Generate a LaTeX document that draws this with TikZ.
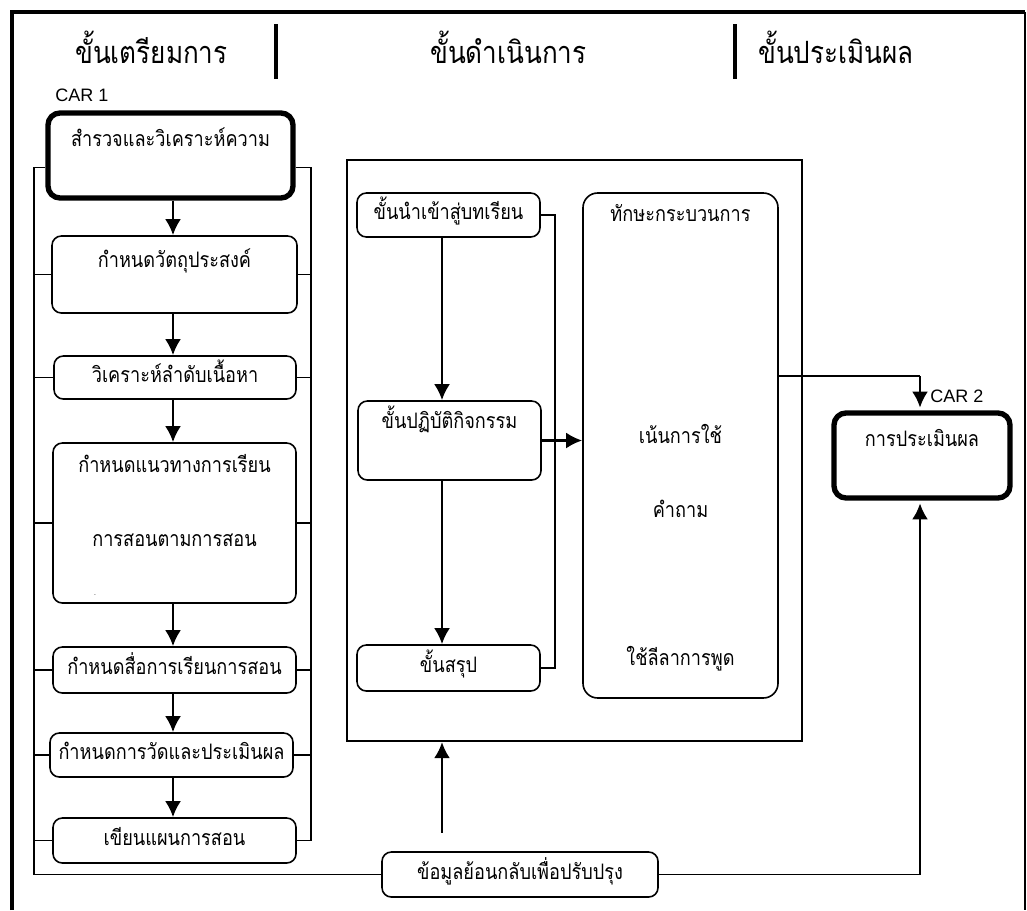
\documentclass[tikz,border=0pt]{standalone}
\usepackage{fontspec}
\setmainfont{Liberation Sans}
\newfontfamily\thaifont[Script=Thai, FakeStretch=0.85]{Loma}
\usetikzlibrary{arrows.meta}
\newcommand{\headfont}{\thaifont\fontsize{23}{27}\selectfont}
\newcommand{\boxfont}{\thaifont\fontsize{16}{19}\selectfont}
\newcommand{\carfont}{\fontsize{13.5}{16}\selectfont}

\tikzset{
  sz/.style 2 args={minimum width=#1*0.75pt, minimum height=#2*0.75pt},
  txt/.style={font=\boxfont, inner sep=0pt, text height=7pt, text depth=0pt},
  stepbox/.style={draw, rounded corners=7pt, line width=1.2pt, inner sep=0pt, txt},
  carbox/.style={stepbox, line width=4pt, rounded corners=9pt},
  head/.style={font=\headfont, anchor=base west, inner sep=0pt},
  arr/.style={-{Latex[length=12pt,width=12pt]}, line width=2pt},
  wire/.style={line width=1pt},
}

\begin{document}
\begin{tikzpicture}[x=0.75pt, y=-0.75pt]
  \useasboundingbox (0,0) rectangle (1027,910);
  % frame
  \draw[line width=2.3pt] (12,910) -- (12,12) -- (1025,12);
  \draw[line width=1pt] (1025,12) -- (1025,910);

  \node[head] (h-prep) at (75,63) {ขั้นเตรียมการ};
  \node[head] (h-run) at (430,63) {ขั้นดำเนินการ};
  \node[head] (h-eval) at (758,63) {ขั้นประเมินผล};
  \draw[line width=3.5pt] (276,24) -- (276,79);
  \draw[line width=3.5pt] (735,24) -- (735,79);

  \node[anchor=base west, font=\carfont, inner sep=0pt] (car1) at (55,101) {CAR 1};
  \node[anchor=base west, font=\carfont, inner sep=0pt] (car2) at (930,402) {CAR 2};

  % preparation column
  \node[carbox, sz={245}{85}] (survey) at (170.5,155.5) {};
  \node[txt] (survey-t) at (170.5,142) {สำรวจและวิเคราะห์ความ};
  \node[stepbox, sz={245}{77}] (goal) at (174.5,274.5) {};
  \node[txt] (goal-t) at (174.5,263) {กำหนดวัตถุประสงค์};
  \node[stepbox, sz={242}{43}] (order) at (175,377.5) {วิเคราะห์ลำดับเนื้อหา};
  \node[stepbox, sz={243}{160}] (plan) at (174.5,523) {};
  \node[txt] (plan-t1) at (174.5,468) {กำหนดแนวทางการเรียน};
  \node[txt] (plan-t2) at (174.5,542) {การสอนตามการสอน};
  \node[font=\tiny, inner sep=0pt] (plan-dot) at (95,595) {.};
  \node[stepbox, sz={243}{46}] (media) at (174.5,670) {กำหนดสื่อการเรียนการสอน};
  \node[stepbox, sz={243}{44}] (assess) at (171.5,755) {กำหนดการวัดและประเมินผล};
  \node[stepbox, sz={243}{45}] (write) at (174.5,840.5) {เขียนแผนการสอน};

  \coordinate (col) at (173,0);
  \coordinate (lspine) at (34,0);
  \coordinate (rspine) at (311,0);
  \foreach \a/\b in {survey/goal, goal/order, order/plan, plan/media, media/assess, assess/write}{
    \draw[arr] (\a.south -| col) -- (\b.north -| col);
  };

  % feedback
  \node[stepbox, sz={276}{45}] (feedback) at (520,874.5) {ข้อมูลย้อนกลับเพื่อปรับปรุง};

  \draw[wire] ([yshift=-9pt]survey.west) -| (feedback.west -| lspine) -- (feedback.west);
  \draw[wire] ([yshift=-9pt]survey.east) -| (write.east -| rspine) -- (write.east);
  \foreach \b in {goal, order, plan, media, assess, write}{
    \draw[wire] (\b.west) -- (\b.west -| lspine);
  };
  \foreach \b in {goal, order, plan, media, assess}{
    \draw[wire] (\b.east) -- (\b.east -| rspine);
  };

  % teaching steps
  \node[draw, line width=1.6pt, inner sep=0pt, sz={455}{581}] (run) at (574.5,450.5) {};
  \node[stepbox, sz={183}{44}] (intro) at (448.5,215) {ขั้นนำเข้าสู่บทเรียน};
  \node[stepbox, sz={183}{79}] (act) at (449.5,440.5) {};
  \node[txt] (act-t) at (449.5,424) {ขั้นปฏิบัติกิจกรรม};
  \node[stepbox, sz={183}{46}] (sum) at (448.5,668) {ขั้นสรุป};
  \node[stepbox, rounded corners=11pt, sz={195}{505}] (skill) at (680.5,445.5) {};
  \node[txt] (skill-t1) at (680.5,217) {ทักษะกระบวนการ};
  \node[txt] (skill-t2) at (680.5,439) {เน้นการใช้};
  \node[txt] (skill-t3) at (680.5,513) {คำถาม};
  \node[txt] (skill-t4) at (680.5,661) {ใช้ลีลาการพูด};

  \coordinate (mid) at (442,0);
  \coordinate (bracket) at (555,0);
  \draw[arr] (intro.south -| mid) -- (act.north -| mid);
  \draw[arr] (act.south -| mid) -- (sum.north -| mid);
  \draw[wire] (intro.east) -| (sum.east -| bracket) -- (sum.east);
  \draw[arr] (act.east) -- (act.east -| skill.west);
  \draw[arr, shorten <=14pt] (feedback.north -| mid) -- (run.south -| mid);

  % evaluation
  \node[carbox, sz={176}{85}] (evalbox) at (922,455.5) {};
  \node[txt] (evalbox-t) at (922,442) {การประเมินผล};
  \coordinate (turn) at (920,376);
  \draw[wire] (skill.east |- turn) -- (turn);
  \draw[arr, shorten >=2pt] (turn) -- (turn |- evalbox.north);
  \draw[wire] (feedback.east) -- (feedback.east -| turn);
  \draw[arr, shorten >=2pt] (feedback.east -| turn) -- (turn |- evalbox.south);
\end{tikzpicture}
\end{document}
